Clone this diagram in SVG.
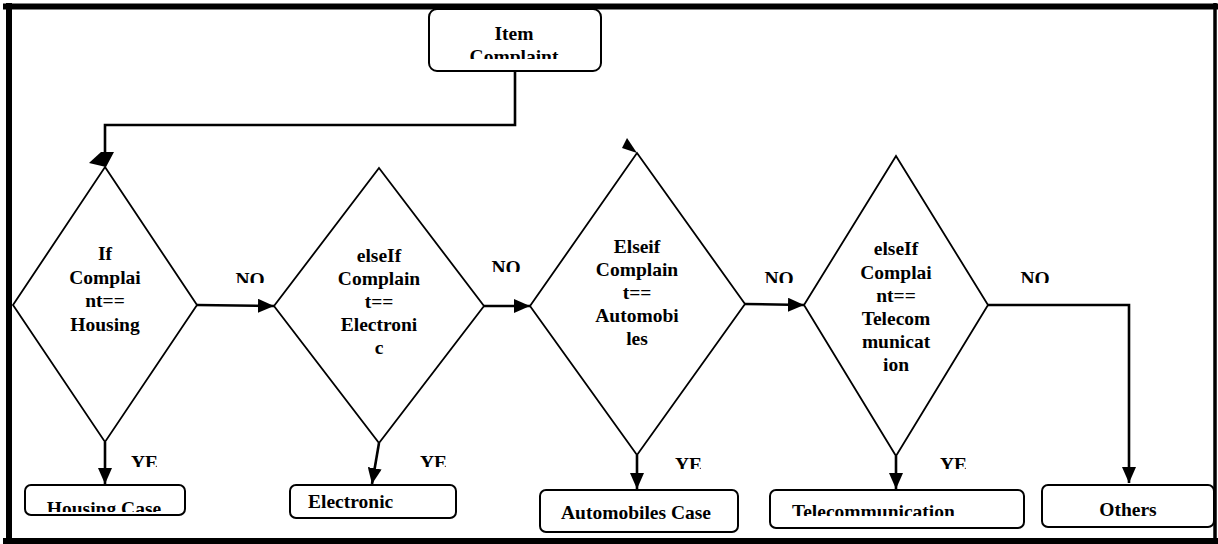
<svg xmlns="http://www.w3.org/2000/svg" width="1218" height="544" viewBox="0 0 1218 544" font-family="Liberation Serif, Times New Roman, serif">
<style>
.t{font-weight:bold;font-size:19.5px;fill:#000;text-anchor:middle}
.ts{font-weight:bold;font-size:19.5px;fill:#000}
.box{fill:#fff;stroke:#000;stroke-width:2}
.dia{fill:#fff;stroke:#000;stroke-width:1.8}
.con{fill:none;stroke:#000;stroke-width:2.6}
.frame{stroke:#000;fill:none}
</style>
<defs>
<marker id="ah" markerUnits="userSpaceOnUse" markerWidth="18" markerHeight="14" refX="16" refY="7" orient="auto">
<path d="M0,0 L16,7 L0,14 Z" fill="#000"/>
</marker>
<clipPath id="cItem"><rect x="430" y="10" width="170" height="49"/></clipPath>
<clipPath id="cNo1"><rect x="220" y="260" width="60" height="23"/></clipPath>
<clipPath id="cNo2"><rect x="480" y="250" width="50" height="22"/></clipPath>
<clipPath id="cNo3"><rect x="755" y="260" width="50" height="23"/></clipPath>
<clipPath id="cNo4"><rect x="1010" y="260" width="50" height="23"/></clipPath>
<clipPath id="cYe1"><rect x="125" y="445" width="32" height="22"/></clipPath>
<clipPath id="cYe2"><rect x="414" y="445" width="32" height="22"/></clipPath>
<clipPath id="cYe3"><rect x="670" y="447" width="31" height="22"/></clipPath>
<clipPath id="cYe4"><rect x="935" y="447" width="31" height="22"/></clipPath>
<clipPath id="cHou"><rect x="26" y="487" width="158" height="25"/></clipPath>
<clipPath id="cTel"><rect x="772" y="492" width="250" height="24"/></clipPath>
</defs>

<g id="frame">
<line class="frame" x1="3" y1="6.5" x2="1218" y2="6.5" stroke-width="6"/>
<line class="frame" x1="9" y1="3" x2="9" y2="544" stroke-width="6"/>
<line class="frame" x1="3" y1="541" x2="1218" y2="541" stroke-width="6"/>
<line class="frame" x1="1215" y1="3" x2="1215" y2="544" stroke-width="3.5"/>
</g>

<g id="connectors">
<polyline class="con" points="515,71 515,125 105,125 105,153"/>
<polygon points="101,152 114,152 106,167 89,163" fill="#000"/>
<polygon points="627,138 622,148 637,153" fill="#000"/>
<line class="con" x1="197" y1="305" x2="274" y2="306" marker-end="url(#ah)"/>
<line class="con" x1="484" y1="306" x2="530" y2="306" marker-end="url(#ah)"/>
<line class="con" x1="745" y1="304" x2="804" y2="305" marker-end="url(#ah)"/>
<polyline class="con" points="988,305 1129,305 1129,483" marker-end="url(#ah)"/>
<line class="con" x1="105" y1="442" x2="105" y2="484" marker-end="url(#ah)"/>
<line class="con" x1="379" y1="443" x2="372" y2="484" marker-end="url(#ah)"/>
<line class="con" x1="637" y1="455" x2="637" y2="489" marker-end="url(#ah)"/>
<line class="con" x1="896" y1="456" x2="896" y2="489" marker-end="url(#ah)"/>
<text class="t" x="250" y="286" clip-path="url(#cNo1)">NO</text>
<text class="t" x="506" y="274" clip-path="url(#cNo2)">NO</text>
<text class="t" x="779" y="285" clip-path="url(#cNo3)">NO</text>
<text class="t" x="1035" y="285" clip-path="url(#cNo4)">NO</text>
<text class="ts" x="131" y="469" clip-path="url(#cYe1)">YES</text>
<text class="ts" x="420" y="469" clip-path="url(#cYe2)">YES</text>
<text class="ts" x="675" y="471" clip-path="url(#cYe3)">YES</text>
<text class="ts" x="940" y="471" clip-path="url(#cYe4)">YES</text>
</g>

<g id="start">
<rect class="box" x="429" y="9" width="172" height="62" rx="8"/>
<g clip-path="url(#cItem)">
<text class="t" x="514" y="40">Item</text>
<text class="t" x="514" y="63">Complaint</text>
</g>
</g>

<g id="dec1">
<polygon class="dia" points="105,167 197,305 105,442 13,305"/>
<text class="t" x="105" y="260">If</text>
<text class="t" x="105" y="284">Complai</text>
<text class="t" x="105" y="307">nt==</text>
<text class="t" x="105" y="331">Housing</text>
</g>

<g id="dec2">
<polygon class="dia" points="379,168 484,306 379,443 274,306"/>
<text class="t" x="379" y="262">elseIf</text>
<text class="t" x="379" y="285">Complain</text>
<text class="t" x="379" y="308">t==</text>
<text class="t" x="379" y="331">Electroni</text>
<text class="t" x="379" y="354">c</text>
</g>

<g id="dec3">
<polygon class="dia" points="637,153 745,304 637,455 530,306"/>
<text class="t" x="637" y="253">Elseif</text>
<text class="t" x="637" y="276">Complain</text>
<text class="t" x="637" y="299">t==</text>
<text class="t" x="637" y="322">Automobi</text>
<text class="t" x="637" y="345">les</text>
</g>

<g id="dec4">
<polygon class="dia" points="896,156 988,305 896,456 804,305"/>
<text class="t" x="896" y="255">elseIf</text>
<text class="t" x="896" y="279">Complai</text>
<text class="t" x="896" y="302">nt==</text>
<text class="t" x="896" y="325">Telecom</text>
<text class="t" x="896" y="348">municat</text>
<text class="t" x="896" y="371">ion</text>
</g>

<g id="housing">
<rect class="box" x="25" y="485" width="160" height="30" rx="6"/>
<text class="t" x="104" y="515" clip-path="url(#cHou)">Housing Case</text>
</g>

<g id="electronic">
<rect class="box" x="290" y="485" width="166" height="33" rx="6"/>
<text class="ts" x="308" y="508">Electronic</text>
</g>

<g id="automobiles">
<rect class="box" x="540" y="490" width="198" height="42" rx="6"/>
<text class="t" x="636" y="519">Automobiles Case</text>
</g>

<g id="telecom">
<rect class="box" x="770" y="490" width="254" height="38" rx="6"/>
<text class="ts" x="792" y="518" clip-path="url(#cTel)">Telecommunication</text>
</g>

<g id="others">
<rect class="box" x="1042" y="485" width="172" height="42" rx="6"/>
<text class="t" x="1128" y="516">Others</text>
</g>
</svg>
